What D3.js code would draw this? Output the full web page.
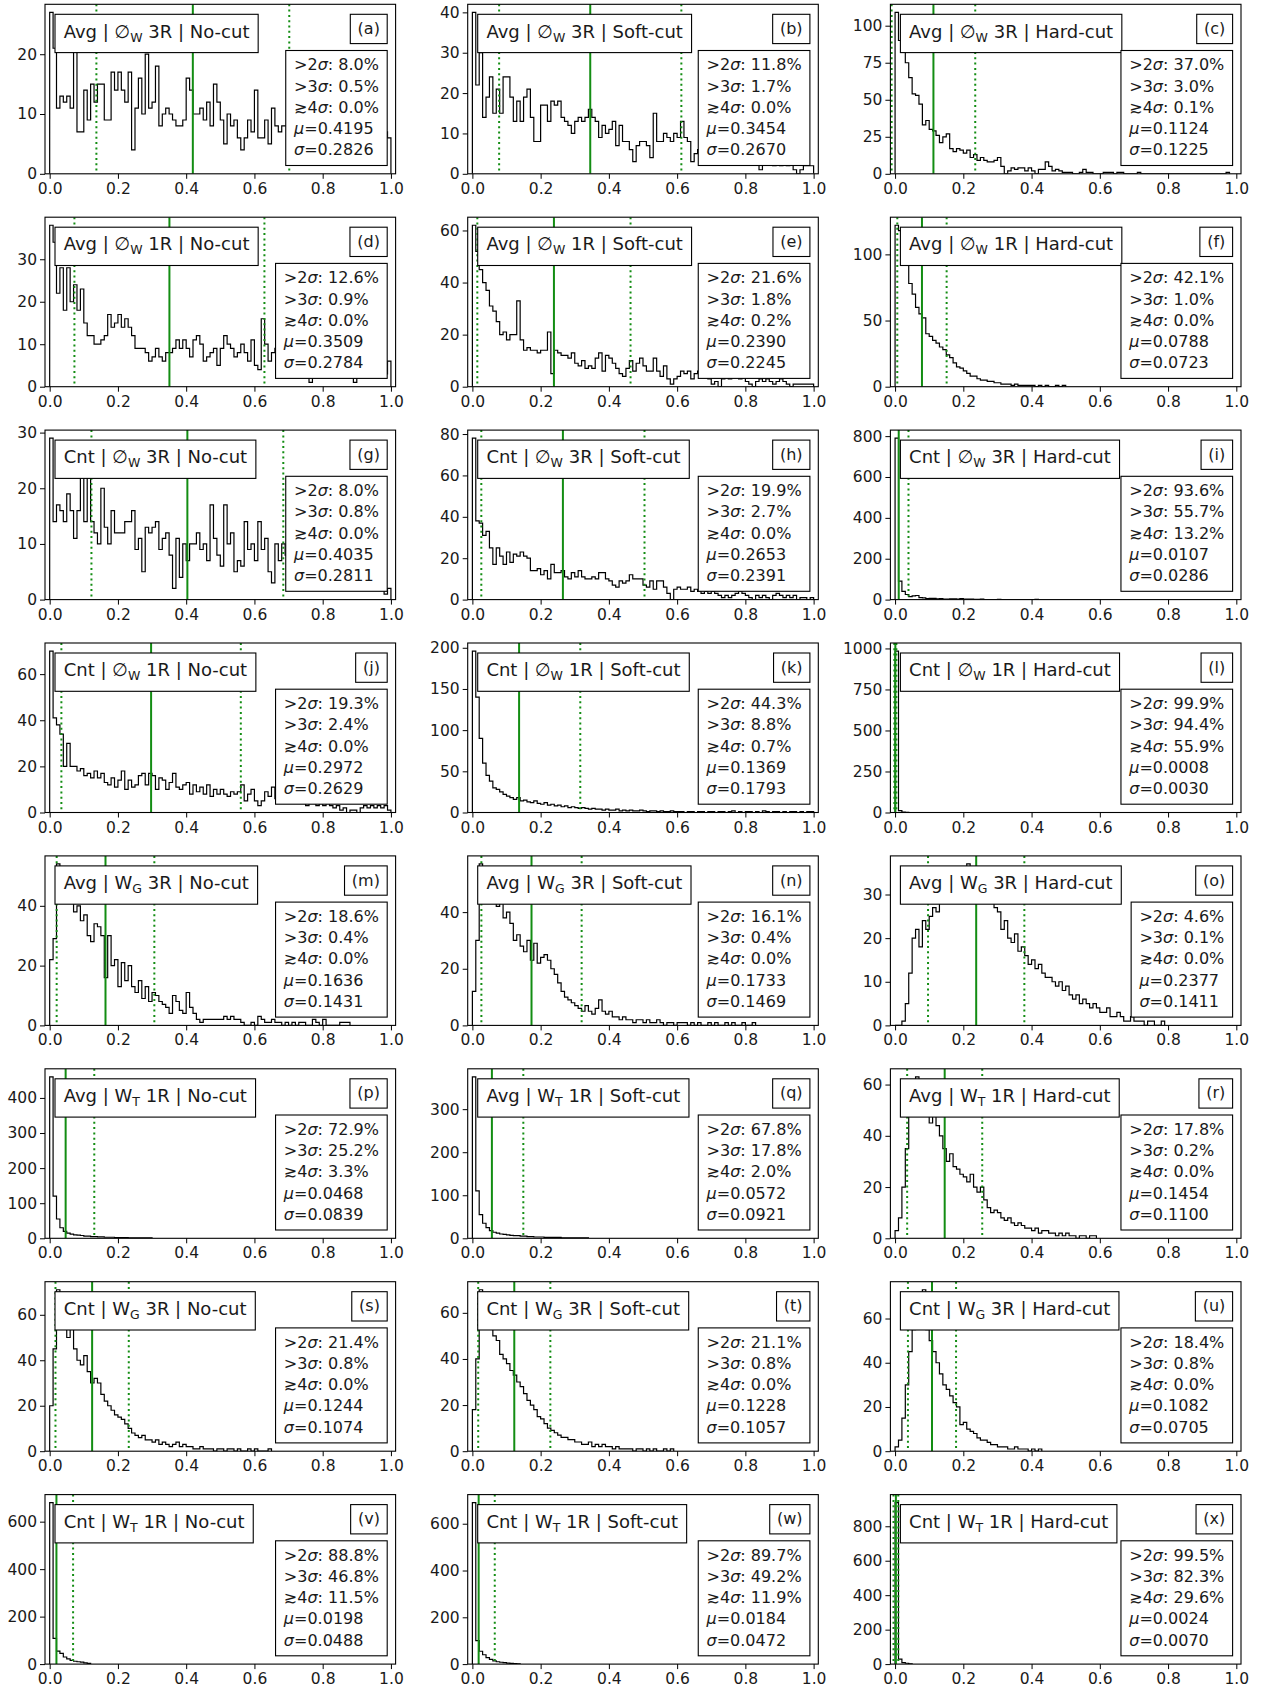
<!DOCTYPE html>
<html>
<head>
<meta charset="utf-8">
<script src="https://cdn.jsdelivr.net/npm/d3@7"></script>
<style>
  body { margin: 0; background: #fff; }
  svg text { font-family: "DejaVu Sans", sans-serif; fill: #1a1a1a; white-space: pre; }
</style>
</head>
<body>
<svg id="fig" width="1262" height="1688"></svg>
<script>
// row / column descriptors
const aggs = ["Avg", "Avg", "Cnt", "Cnt", "Avg", "Avg", "Cnt", "Cnt"];
const weightBase = ["\u2205", "\u2205", "\u2205", "\u2205", "W", "W", "W", "W"];
const weightSub = ["W", "W", "W", "W", "G", "T", "G", "T"];
const regions = ["3R", "1R", "3R", "1R", "3R", "1R", "3R", "1R"];
const cuts = ["No-cut", "Soft-cut", "Hard-cut"];
const letters = "abcdefghijklmnopqrstuvwx".split("");

// stats per panel (a..x)
const gt2 = ["8.0", "11.8", "37.0", "12.6", "21.6", "42.1", "8.0", "19.9", "93.6", "19.3", "44.3", "99.9",
             "18.6", "16.1", "4.6", "72.9", "67.8", "17.8", "21.4", "21.1", "18.4", "88.8", "89.7", "99.5"];
const gt3 = ["0.5", "1.7", "3.0", "0.9", "1.8", "1.0", "0.8", "2.7", "55.7", "2.4", "8.8", "94.4",
             "0.4", "0.4", "0.1", "25.2", "17.8", "0.2", "0.8", "0.8", "0.8", "46.8", "49.2", "82.3"];
const ge4 = ["0.0", "0.0", "0.1", "0.0", "0.2", "0.0", "0.0", "0.0", "13.2", "0.0", "0.7", "55.9",
             "0.0", "0.0", "0.0", "3.3", "2.0", "0.0", "0.0", "0.0", "0.0", "11.5", "11.9", "29.6"];
const mus = [0.4195, 0.3454, 0.1124, 0.3509, 0.2390, 0.0788, 0.4035, 0.2653, 0.0107, 0.2972, 0.1369, 0.0008,
             0.1636, 0.1733, 0.2377, 0.0468, 0.0572, 0.1454, 0.1244, 0.1228, 0.1082, 0.0198, 0.0184, 0.0024];
const sigmas = [0.2826, 0.2670, 0.1225, 0.2784, 0.2245, 0.0723, 0.2811, 0.2391, 0.0286, 0.2629, 0.1793, 0.0030,
                0.1431, 0.1469, 0.1411, 0.0839, 0.0921, 0.1100, 0.1074, 0.1057, 0.0705, 0.0488, 0.0472, 0.0070];

const yTicks = [
  [0, 10, 20], [0, 10, 20, 30, 40], [0, 25, 50, 75, 100],
  [0, 10, 20, 30], [0, 20, 40, 60], [0, 50, 100],
  [0, 10, 20, 30], [0, 20, 40, 60, 80], [0, 200, 400, 600, 800],
  [0, 20, 40, 60], [0, 50, 100, 150, 200], [0, 250, 500, 750, 1000],
  [0, 20, 40], [0, 20, 40], [0, 10, 20, 30],
  [0, 100, 200, 300, 400], [0, 100, 200, 300], [0, 20, 40, 60],
  [0, 20, 40, 60], [0, 20, 40, 60], [0, 20, 40, 60],
  [0, 200, 400, 600], [0, 200, 400, 600], [0, 200, 400, 600, 800]
];
const xTicks = [0, 0.2, 0.4, 0.6, 0.8, 1.0];
const binWidth = 0.01;

// histogram counts, 0.01-wide bins from 0
const hA = [27,21,11,13,12,13,11,22,7,7, 14,9,15,12,15,15,9,9,17,14, 17,14,12,17,4,11,16,10,20,11,
            12,18,8,10,11,10,9,8,8,9, 16,14,10,10,11,9,12,8,15,12, 9,5,10,8,9,6,4,6,9,7,
            14,6,6,9,5,11,8,7,8,8, 7,9,6,8,7,5,8,6,7,8, 6,7,5,8,6,7,6,5,7,6, 8,5,6,7,6,5,7,6,7,6];
const hB = [40,22,30,14,19,24,15,21,15,24, 24,19,13,18,13,19,21,14,8,8, 17,17,13,18,17,18,14,13,12,10,
            13,14,13,14,16,14,13,9,12,10, 11,13,7,12,8,8,6,3,7,8, 8,7,4,15,8,8,10,9,8,10,
            9,13,9,8,3,5, 6,7,5,6,4,5,6,4,5,3,4,5,3,4,3,3,4,3,1,3,4,3,2,3,2,3,2,3,1,0,1,2,2,2];
const hC = [109,90,82,75,65,54,53,47,33,36, 30,29,26,21,25,27,17,15,17,16, 14,16,11,13,9,11,9,8,8,9,
            11,5,0,2,4,3,4,4,2,4, 2,0,3,3,8,5,2,3,2,1, 1,1,0,0,1,3,1,1,0,0, 0,1,1,1,0,1,1,0,0,0,
            0,1,0,0,0,0,0,0,0,0, 0,0,0,0,0,0,0,0,0,0, 0,0,0,0,0,0,0,1];
const hD = [38,34,22,28,18,28,20,24,18,23, 15,12,12,10,10,11,12,17,14,15, 17,14,16,14,12,9,9,9,8,6,
            7,9,7,6,8,8,9,11,9,11, 9,7,11,12,10,6,7,8,9,5, 9,12,10,9,7,8,10,8,6,11, 5,4,16,10,6,8,
            9,7,8,6,7,8,5,6,7,5,1,6,5,7,4,6,5,4,6,5,4,5,3,1,4,5,4,3,4,5,3,4,3,6];
const hE = [62,52,45,40,37,31,29,25,20,21, 18,20,20,33,18,14,15,14,14,13, 14,14,21,5,14,13,12,12,11,13,
            9,8,10,7,8,7,11,13,6,12, 11,9,7,5,4,7,10,6,9,11, 8,6,6,11,6,4,8,3,1,3, 4,6,5,6,3,5,
            6,4,5,3,1,2,0,3,4,3,5,4,3,4,2,1,0,2,3,2,3,2,1,2,3,2,1,0,1,1,1,1,1,1];
const hF = [122,118,105,95,78,70,60,55,52,40, 38,35,33,30,28,24,22,18,15,14, 12,10,8,8,6,5,5,4,4,3,
            3,2,2,2,1,2,1,1,1,1, 1,0,1,0,1,0,0,1,0,1];
const hG = [29,14,17,16,14,19,16,11,16,24, 14,25,14,12,10,20,13,10,16,12, 12,12,14,14,16,9,11,5,13,12,
            13,14,9,11,12,8,2,11,4,10, 7,10,10,12,9,10,7,17,11,8, 6,17,10,12,5,7,6,14,9,10,
            7,14,9,11,5,3,10,7,10, 8,6,7,8,5,7,6,5,7,6,5,4,6,5,4,5,6,4,5,3,4,5,3,4,3,4,3,2,3,1,2];
const hH = [78,38,37,31,33,25,17,25,21,17, 23,18,22,21,23,21,20,14,14,15, 12,14,10,17,13,13,14,11,10,13,
            11,14,11,10,10,11,10,13,13,10, 9,7,6,9,8,9,12,10,10,10, 7,6,9,5,9,9,6,3,0,5, 6,5,5,6,4,5,
            4,3,4,3,4,3,2,1,2,1,2,3,4,3,2,1,0,2,1,2,1,0,2,3,2,1,2,1,2,0,1,1,0,1];
const hI = [790,90,40,25,15,18,20,10,8,5, 6,6,4,5,3,3,4,4,2,5, 3,3,2,1,1,2,0,0,0,0, 1,0,0,0,0,0,0,0,0,0, 0,1];
const hJ = [70,41,38,34,20,30,20,20,18,19, 16,17,15,18,15,17,13,12,15,11, 14,18,10,14,11,12,16,17,12,17,
            16,10,15,14,10,13,17,11,10,12, 13,8,12,9,11,8,12,7,10,8, 10,8,7,9,8,9,12,5,8,10, 5,3,5,9,7,11,
            6,7,5,6,4,5,6,4,5,3,4,5,3,4,3,4,3,2,3,1,2,0,1,1,0,2,3,2,3,2,3,2,3,1];
const hK = [196,140,90,60,45,38,30,28,25,22, 20,18,16,18,14,15,13,12,14,11, 10,12,9,10,8,9,7,8,6,7,
            6,5,6,5,4,5,4,4,3,4, 3,3,4,2,3,2,3,2,2,3, 2,1,2,2,1,2,1,1,2,1, 1,1,0,1,1,0,1,1,0,1,
            1,0,1,1,0,1,2,0,1,0, 1,1,0,1,0,2,1,0,1,1, 0,1,0,1,1,0,1,0,1,1];
const hL = [984,12,3,1];
const hM = [22,29,54,48,45,43,42,38,40,35, 37,30,28,34,33,30,16,30,20,22, 13,21,15,20,13,11,15,9,13,8,
            11,10,8,7,6,4,10,8,5,4, 11,6,4,2,1,2,2,2,2,2, 2,3,2,3,2,2,1,0,0,1, 0,3,2,1,1,2,1,1,0,1,
            0,1,0,1,1,0,0,2,1,0, 2,0,0,0,0,1,1,1];
const hN = [12,30,57,50,52,48,45,42,44,38, 40,36,30,32,28,26,30,23,29,22, 24,25,23,20,18,15,12,10,9,8,
            7,6,5,7,5,4,6,9,5,4, 5,3,3,2,3,2,2,1,2,2, 1,2,1,1,2,1,0,1,1,0, 1,1,1,0,1,0,1,0,0,1,
            0,1,0,0,1,0,1,0,0,1, 0,0,1];
const hO = [0,0,1,5,12,20,22,18,24,22, 25,27,26,28,30,32,34,29,33,31, 35,37,30,34,32,29,33,30,28,27,
            26,22,24,20,19,21,17,18,16,14, 15,13,14,12,11,11,10,9,10,8, 9,7,6,7,5,6,5,4,5,4,
            3,3,4,2,2,3,2,1,1,2, 1,1,1,0,1,1,0,0,1];
const hP = [460,120,55,30,20,15,12,10,9,8, 6,6,5,5,4,4,3,3,3,2, 2,2,2,1,1,1,1,1,1,1];
const hQ = [375,110,55,35,25,18,14,12,10,9, 8,7,6,6,5,5,4,4,3,3, 3,2,2,2,2,2,1,1,1,1, 1,1,1,1];
const hR = [3,8,20,35,50,55,63,52,50,48, 45,50,44,40,35,30,33,28,27,25, 24,22,25,20,18,20,15,12,10,11,
            10,8,7,8,6,5,6,5,4,4, 3,4,2,3,3,2,2,1,2,1, 2,1,1,0,1,1,0,1,1];
const hS = [20,45,71,55,60,50,55,45,40,38, 42,35,30,32,30,25,22,20,18,16, 15,14,12,10,8,7,6,7,5,5,
            4,5,3,4,3,2,3,4,2,3, 2,2,1,1,2,1,1,1,0,1, 1,0,1,1,0,1,0,0,1,0, 1,0,0,0,1];
const hT = [18,40,70,58,55,57,50,48,42,40, 38,35,33,30,28,25,22,20,18,15, 14,12,10,9,8,7,6,6,5,5,
            4,4,3,3,4,2,3,2,3,2, 2,1,2,1,1,1,1,0,1,1, 0,1,0,1,0,0,1,0,1];
const hU = [2,5,15,30,45,55,62,58,73,55, 50,45,40,35,30,28,25,22,20,12, 13,10,9,8,6,5,5,4,3,3,
            2,2,2,1,1,2,1,1,1,0, 1,0,1];
const hV = [680,108,55,45,30,22,16,12,10,8, 5,3];
const hW = [690,100,55,40,28,20,14,10,8,6, 4,3,2,1];
const hX = [937,29,8,5,2];

const hists = [hA, hB, hC, hD, hE, hF, hG, hH, hI, hJ, hK, hL,
               hM, hN, hO, hP, hQ, hR, hS, hT, hU, hV, hW, hX];

// layout
const colX = [45, 467.7, 890.4];
const rowTop = 4.3, rowStep = 212.9;
const panelW = 350.6, panelH = 169.5;

const svg = d3.select("#fig");

hists.forEach((h, i) => {
  const r = Math.floor(i / 3), c = i % 3;
  const g = svg.append("g")
    .attr("transform", `translate(${colX[c]},${rowTop + r * rowStep})`);

  const x = d3.scaleLinear().domain([-0.0137, 1.0137]).range([0, panelW]);
  const y = d3.scaleLinear().domain([0, d3.max(h) * 1.05]).range([panelH, 0]);

  const clipId = "clip" + i;
  g.append("clipPath").attr("id", clipId)
    .append("rect").attr("width", panelW).attr("height", panelH);

  const plot = g.append("g").attr("clip-path", `url(#${clipId})`);

  // step outline
  const pts = [[0, 0]];
  h.forEach((v, k) => { pts.push([k * binWidth, v], [(k + 1) * binWidth, v]); });
  pts.push([h.length * binWidth, 0]);
  plot.append("path")
    .attr("d", d3.line().x(d => x(d[0])).y(d => y(d[1]))(pts))
    .attr("fill", "none")
    .attr("stroke", "#000")
    .attr("stroke-width", 1.2);

  // mean and +-sigma lines
  const m = mus[i], s = sigmas[i];
  [[m, null], [m - s, "2,3.3"], [m + s, "2,3.3"]].forEach(([v, dash]) => {
    plot.append("line")
      .attr("x1", x(v)).attr("x2", x(v))
      .attr("y1", 0).attr("y2", panelH)
      .attr("stroke", "#138d13")
      .attr("stroke-width", 2)
      .attr("stroke-dasharray", dash);
  });

  // axes
  const xa = g.append("g").attr("transform", `translate(0,${panelH})`)
    .call(d3.axisBottom(x).tickValues(xTicks).tickFormat(d3.format(".1f"))
      .tickSize(5).tickPadding(4).tickSizeOuter(0));
  const ya = g.append("g")
    .call(d3.axisLeft(y).tickValues(yTicks[i]).tickFormat(d3.format("d"))
      .tickSize(5).tickPadding(3).tickSizeOuter(0));
  [xa, ya].forEach(a => {
    a.select(".domain").remove();
    a.selectAll("line").attr("stroke", "#000");
    a.selectAll("text").attr("font-size", 15.5).attr("fill", "#1a1a1a")
      .style("font-family", "DejaVu Sans");
  });

  // title box
  const tt = g.append("text").attr("x", 18.7).attr("y", 33.3).attr("font-size", 18);
  tt.append("tspan").text(`${aggs[r]} | ${weightBase[r]}`);
  tt.append("tspan").attr("font-size", 12.5).attr("dy", 4).text(weightSub[r]);
  tt.append("tspan").attr("dy", -4).text(` ${regions[r]} | ${cuts[c]}`);
  const tw = tt.node().getComputedTextLength();
  g.insert("rect", () => tt.node())
    .attr("x", 10).attr("y", 10).attr("width", tw + 17.4).attr("height", 38.3)
    .attr("fill", "#fff").attr("stroke", "#000").attr("stroke-width", 1.1);

  // letter box
  const lt = g.append("text").attr("font-size", 16).attr("y", 29.7).text(`(${letters[i]})`);
  const lw = lt.node().getComputedTextLength();
  const lRight = panelW - 8.4;
  lt.attr("x", lRight - 7.3 - lw);
  g.insert("rect", () => lt.node())
    .attr("x", lRight - lw - 14.6).attr("y", 10).attr("width", lw + 14.6).attr("height", 29.3)
    .attr("fill", "#fff").attr("stroke", "#000").attr("stroke-width", 1.1);

  // stats box
  const lines = [
    [">2", ["\u03c3"], `: ${gt2[i]}%`],
    [">3", ["\u03c3"], `: ${gt3[i]}%`],
    ["\u2273", "4", ["\u03c3"], `: ${ge4[i]}%`],
    [["\u03bc"], `=${mus[i].toFixed(4)}`],
    [["\u03c3"], `=${sigmas[i].toFixed(4)}`]
  ];
  const sg = g.append("g");
  const texts = lines.map((parts, k) => {
    const t = sg.append("text").attr("font-size", 16).attr("y", 0).attr("x", 0);
    parts.forEach(p => {
      if (Array.isArray(p)) t.append("tspan").attr("font-style", "italic").text(p[0]);
      else t.append("tspan").text(p);
    });
    return t;
  });
  const sw = d3.max(texts, t => t.node().getComputedTextLength());
  const boxH = 115, boxW = sw + 16.6;
  const bx = panelW - 8.4 - boxW, by = panelH - 8.3 - boxH;
  sg.insert("rect", "text")
    .attr("x", bx).attr("y", by).attr("width", boxW).attr("height", boxH)
    .attr("fill", "#fff").attr("stroke", "#000").attr("stroke-width", 1.1);
  texts.forEach((t, k) => t.attr("x", bx + 8.3).attr("y", by + 20 + k * 21.2));

  // frame
  g.append("rect").attr("width", panelW).attr("height", panelH)
    .attr("fill", "none").attr("stroke", "#000").attr("stroke-width", 1.1);
});
</script>
</body>
</html>
